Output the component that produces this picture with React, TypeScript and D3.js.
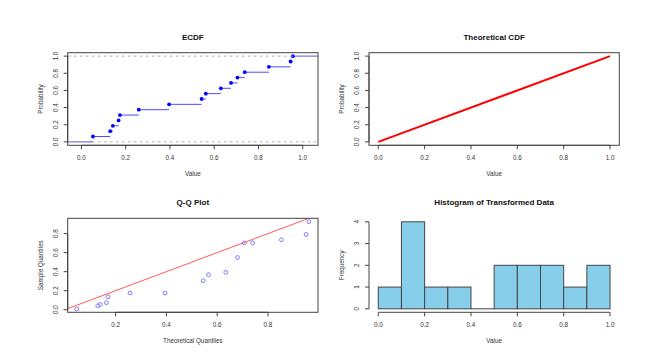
import React, { useRef, useEffect } from "react";
import { select, scaleLinear, line } from "d3";

// sorted sample values (ECDF knots)
const ecdfValues = [0.052, 0.13, 0.142, 0.168, 0.174, 0.259, 0.396, 0.543, 0.562, 0.63, 0.676, 0.705, 0.738, 0.847, 0.945, 0.955];

// theoretical uniform CDF
const cdfX = [0, 1];
const cdfY = [0, 1];

// Q-Q plot points
const qqTheoretical = [0.047, 0.13, 0.14, 0.164, 0.17, 0.257, 0.395, 0.545, 0.566, 0.634, 0.68, 0.707, 0.74, 0.853, 0.95, 0.961];
const qqSample = [0.008, 0.042, 0.056, 0.074, 0.136, 0.176, 0.176, 0.304, 0.368, 0.393, 0.549, 0.703, 0.703, 0.735, 0.791, 0.925];

// histogram
const histBreaks = [0, 0.1, 0.2, 0.3, 0.4, 0.5, 0.6, 0.7, 0.8, 0.9, 1.0];
const histCounts = [1, 4, 1, 1, 0, 2, 2, 2, 1, 2];

// ticks
const unitTicks = [0, 0.2, 0.4, 0.6, 0.8, 1.0];
const qqXTicks = [0.2, 0.4, 0.6, 0.8];
const qqYTicks = [0, 0.2, 0.4, 0.6, 0.8];
const freqTicks = [0, 1, 2, 3, 4];

const WIDTH = 665;
const HEIGHT = 356;
const FONT = "'Liberation Sans', Arial, Helvetica, sans-serif";
const AXIS_COL = "#444";

const drawFrame = (g, p, opts) => {
  const { x, y, title, xLabel, yLabel, xTicks, yTicks, fmtX, fmtY, box } = opts;

  if (box) {
    g.append("rect")
      .attr("x", p.left)
      .attr("y", p.top)
      .attr("width", p.right - p.left)
      .attr("height", p.bottom - p.top)
      .attr("fill", "none")
      .attr("stroke", AXIS_COL)
      .attr("stroke-width", 1);
  }

  // x axis
  g.append("line")
    .attr("x1", x(xTicks[0]))
    .attr("x2", x(xTicks[xTicks.length - 1]))
    .attr("y1", p.bottom)
    .attr("y2", p.bottom)
    .attr("stroke", AXIS_COL);
  xTicks.forEach((t) => {
    g.append("line")
      .attr("x1", x(t))
      .attr("x2", x(t))
      .attr("y1", p.bottom)
      .attr("y2", p.bottom + 4)
      .attr("stroke", AXIS_COL);
    g.append("text")
      .attr("x", x(t))
      .attr("y", p.bottom + 14.7)
      .attr("text-anchor", "middle")
      .attr("font-size", 6.3)
      .attr("fill", "#333")
      .text(fmtX(t));
  });

  // y axis
  g.append("line")
    .attr("x1", p.left)
    .attr("x2", p.left)
    .attr("y1", y(yTicks[0]))
    .attr("y2", y(yTicks[yTicks.length - 1]))
    .attr("stroke", AXIS_COL);
  yTicks.forEach((t) => {
    g.append("line")
      .attr("x1", p.left - 4)
      .attr("x2", p.left)
      .attr("y1", y(t))
      .attr("y2", y(t))
      .attr("stroke", AXIS_COL);
    g.append("text")
      .attr("transform", `translate(${p.left - 10.2},${y(t)}) rotate(-90)`)
      .attr("text-anchor", "middle")
      .attr("font-size", 6.3)
      .attr("fill", "#333")
      .text(fmtY(t));
  });

  g.append("text")
    .attr("x", (p.left + p.right) / 2)
    .attr("y", p.top - 13.2)
    .attr("text-anchor", "middle")
    .attr("font-size", 8)
    .attr("font-weight", "bold")
    .attr("fill", "#111")
    .text(title);

  g.append("text")
    .attr("x", (p.left + p.right) / 2)
    .attr("y", p.bottom + 31)
    .attr("text-anchor", "middle")
    .attr("font-size", 6.3)
    .attr("fill", "#333")
    .text(xLabel);

  g.append("text")
    .attr("transform", `translate(${p.left - 25.2},${(p.top + p.bottom) / 2}) rotate(-90)`)
    .attr("text-anchor", "middle")
    .attr("font-size", 6.3)
    .attr("fill", "#333")
    .text(yLabel);
};

const f1 = (d) => d.toFixed(1);
const f0 = (d) => d.toFixed(0);

export default function App() {
  const chartDomNode = useRef(null);

  useEffect(() => {
    const svg = select(chartDomNode.current);
    svg.selectAll("*").remove();
    svg.append("rect").attr("width", WIDTH).attr("height", HEIGHT).attr("fill", "#fff");
    const root = svg.append("g").attr("font-family", FONT);

    // --- ECDF ---
    {
      const p = { left: 67.7, right: 318, top: 52.7, bottom: 145.3 };
      const x = scaleLinear().domain([-0.062, 1.069]).range([p.left, p.right]);
      const y = scaleLinear().domain([-0.04, 1.04]).range([p.bottom, p.top]);
      const g = root.append("g");
      const n = ecdfValues.length;

      const knots = [x.domain()[0], ...ecdfValues, x.domain()[1]];
      for (let i = 0; i < knots.length - 1; i++) {
        g.append("line")
          .attr("x1", x(knots[i]))
          .attr("x2", x(knots[i + 1]))
          .attr("y1", y(i / n))
          .attr("y2", y(i / n))
          .attr("stroke", "#4d4dff")
          .attr("stroke-width", 1);
      }
      ecdfValues.forEach((v, i) => {
        g.append("circle")
          .attr("cx", x(v))
          .attr("cy", y((i + 1) / n))
          .attr("r", 1.9)
          .attr("fill", "#0000ff");
      });

      // dashed reference lines at 0 and 1, drawn on top
      [0, 1].forEach((v) => {
        g.append("line")
          .attr("x1", p.left)
          .attr("x2", p.right)
          .attr("y1", y(v))
          .attr("y2", y(v))
          .attr("stroke", "#b3b3b3")
          .attr("stroke-dasharray", "3,3");
      });

      drawFrame(g, p, {
        x, y, title: "ECDF", xLabel: "Value", yLabel: "Probability",
        xTicks: unitTicks, yTicks: unitTicks, fmtX: f1, fmtY: f1, box: true,
      });
    }

    // --- Theoretical CDF ---
    {
      const p = { left: 369, right: 619.3, top: 52.7, bottom: 145.3 };
      const x = scaleLinear().domain([-0.04, 1.04]).range([p.left, p.right]);
      const y = scaleLinear().domain([-0.04, 1.04]).range([p.bottom, p.top]);
      const g = root.append("g");
      const cdfLine = line()
        .x((d) => x(d[0]))
        .y((d) => y(d[1]));
      g.append("path")
        .datum(cdfX.map((v, i) => [v, cdfY[i]]))
        .attr("fill", "none")
        .attr("stroke", "#ff0000")
        .attr("stroke-width", 2)
        .attr("d", cdfLine);

      drawFrame(g, p, {
        x, y, title: "Theoretical CDF", xLabel: "Value", yLabel: "Probability",
        xTicks: unitTicks, yTicks: unitTicks, fmtX: f1, fmtY: f1, box: true,
      });
    }

    // --- Q-Q plot ---
    {
      const p = { left: 67.7, right: 318, top: 218.3, bottom: 312.3 };
      const x = scaleLinear().domain([0.0115, 0.997]).range([p.left, p.right]);
      const y = scaleLinear().domain([-0.027, 0.961]).range([p.bottom, p.top]);
      const g = root.append("g");

      g.append("defs")
        .append("clipPath")
        .attr("id", "qqclip")
        .append("rect")
        .attr("x", p.left)
        .attr("y", p.top)
        .attr("width", p.right - p.left)
        .attr("height", p.bottom - p.top);

      qqTheoretical.forEach((v, i) => {
        g.append("circle")
          .attr("cx", x(v))
          .attr("cy", y(qqSample[i]))
          .attr("r", 1.9)
          .attr("fill", "none")
          .attr("stroke", "#6f6fff")
          .attr("stroke-width", 0.9);
      });

      // reference line y = x
      g.append("line")
        .attr("clip-path", "url(#qqclip)")
        .attr("x1", x(0))
        .attr("y1", y(0))
        .attr("x2", x(1))
        .attr("y2", y(1))
        .attr("stroke", "#ff5a5a")
        .attr("stroke-width", 1);

      drawFrame(g, p, {
        x, y, title: "Q-Q Plot", xLabel: "Theoretical Quantiles", yLabel: "Sample Quantiles",
        xTicks: qqXTicks, yTicks: qqYTicks, fmtX: f1, fmtY: f1, box: true,
      });
    }

    // --- Histogram ---
    {
      const p = { left: 369, right: 619.3, top: 218.3, bottom: 312.3 };
      const x = scaleLinear().domain([-0.04, 1.04]).range([p.left, p.right]);
      const y = scaleLinear().domain([-0.16, 4.16]).range([p.bottom, p.top]);
      const g = root.append("g");

      histCounts.forEach((c, i) => {
        if (c === 0) {
          g.append("line")
            .attr("x1", x(histBreaks[i]))
            .attr("x2", x(histBreaks[i + 1]))
            .attr("y1", y(0))
            .attr("y2", y(0))
            .attr("stroke", "#444");
          return;
        }
        g.append("rect")
          .attr("x", x(histBreaks[i]))
          .attr("y", y(c))
          .attr("width", x(histBreaks[i + 1]) - x(histBreaks[i]))
          .attr("height", y(0) - y(c))
          .attr("fill", "#87ceeb")
          .attr("stroke", "#444")
          .attr("stroke-width", 1);
      });

      drawFrame(g, p, {
        x, y, title: "Histogram of Transformed Data", xLabel: "Value", yLabel: "Frequency",
        xTicks: unitTicks, yTicks: freqTicks, fmtX: f1, fmtY: f0, box: false,
      });
    }
  }, []);

  return (
    <svg
      ref={chartDomNode}
      width={WIDTH}
      height={HEIGHT}
      style={{ position: "absolute", left: 0, top: 0, display: "block" }}
    />
  );
}
